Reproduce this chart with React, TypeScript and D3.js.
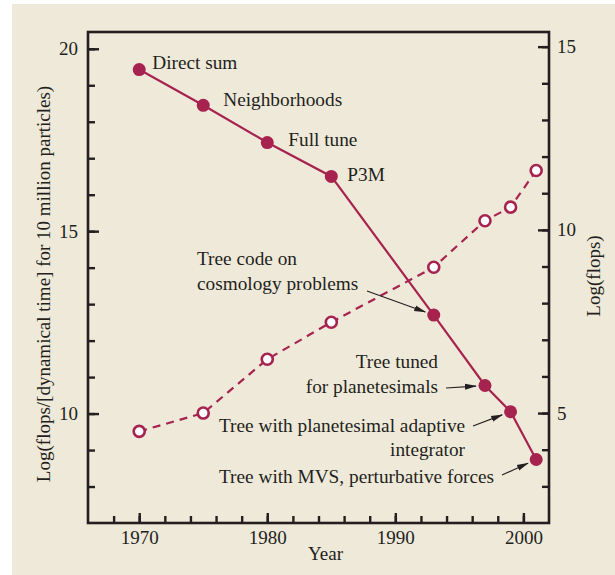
import React, { useEffect, useRef } from "react";
import * as d3 from "d3";

// chart values
const years = [1970, 1975, 1980, 1985, 1993, 1997, 1999, 2001];
const flopsPerDynTime = [19.43, 18.45, 17.43, 16.5, 12.7, 10.77, 10.05, 8.74];
const logFlops = [4.5, 5.0, 6.47, 7.48, 8.98, 10.25, 10.62, 11.62];

const leftMajor = [10, 15, 20];
const rightMajor = [5, 10, 15];
const yearMajor = [1970, 1980, 1990, 2000];

const pointLabels = ["Direct sum", "Neighborhoods", "Full tune", "P3M"];

const INK = "#231f20";
const RED = "#a7234f";
const BG = "#efe9d9";
const FONT = "'Liberation Serif', 'Times New Roman', serif";
const NOTE = 19.3;

export default function App() {
  const ref = useRef<SVGSVGElement>(null);

  useEffect(() => {
    const svg = d3.select(ref.current);
    svg.selectAll("*").remove();

    const L = 88, R = 549, T = 32, B = 523;

    const x = d3.scaleLinear().domain([1966, 2002]).range([L, R]);
    const yL = d3.scaleLinear().domain([7, 20.46]).range([B, T]);
    const yR = d3.scaleLinear().domain([2, 15.4]).range([B, T]);

    svg.append("rect").attr("x", 12).attr("y", 4).attr("width", 615 - 12).attr("height", 575 - 4).attr("fill", BG);

    const defs = svg.append("defs");
    defs.append("marker")
      .attr("id", "arr")
      .attr("viewBox", "0 0 12 10")
      .attr("refX", 11).attr("refY", 5)
      .attr("markerWidth", 12).attr("markerHeight", 10)
      .attr("markerUnits", "userSpaceOnUse")
      .attr("orient", "auto")
      .append("path").attr("d", "M0,2 L12,5 L0,8 Z").attr("fill", INK);

    const styleAxis = (g: any, size: number) => {
      g.select(".domain").remove();
      g.selectAll("line").attr("stroke", INK).attr("stroke-width", 2.4);
      g.selectAll("text").attr("fill", INK).style("font-family", FONT).style("font-size", size + "px");
    };

    // left axis
    svg.append("g").attr("transform", `translate(${L},0)`)
      .call(d3.axisLeft(yL).tickValues(d3.range(8, 21)).tickSize(-7).tickFormat(() => ""))
      .call((g) => styleAxis(g, 19));
    svg.append("g").attr("transform", `translate(${L},0)`)
      .call(d3.axisLeft(yL).tickValues(leftMajor).tickSize(-11).tickPadding(10).tickFormat(d3.format("d")))
      .call((g) => styleAxis(g, 19));

    // right axis
    svg.append("g").attr("transform", `translate(${R},0)`)
      .call(d3.axisRight(yR).tickValues(d3.range(3, 16)).tickSize(-7).tickFormat(() => ""))
      .call((g) => styleAxis(g, 19));
    svg.append("g").attr("transform", `translate(${R},0)`)
      .call(d3.axisRight(yR).tickValues(rightMajor).tickSize(-11).tickPadding(8).tickFormat(d3.format("d")))
      .call((g) => styleAxis(g, 19));

    // bottom axis
    svg.append("g").attr("transform", `translate(0,${B})`)
      .call(d3.axisBottom(x).tickValues(d3.range(1968, 2001, 2)).tickSize(-7).tickFormat(() => ""))
      .call((g) => styleAxis(g, 19));
    svg.append("g").attr("transform", `translate(0,${B})`)
      .call(d3.axisBottom(x).tickValues(yearMajor).tickSize(-10).tickPadding(8).tickFormat(d3.format("d")))
      .call((g) => styleAxis(g, 19));

    // frame
    svg.append("rect")
      .attr("x", L).attr("y", T).attr("width", R - L).attr("height", B - T)
      .attr("fill", "none").attr("stroke", INK).attr("stroke-width", 2.6);

    const txt = (s: string, tx: number, ty: number, anchor = "start", rot = 0, size = NOTE) =>
      svg.append("text")
        .attr("transform", `translate(${tx},${ty}) rotate(${rot})`)
        .attr("text-anchor", anchor)
        .attr("fill", INK)
        .style("font-family", FONT)
        .style("font-size", size + "px")
        .text(s);

    // axis titles
    txt("Year", 325.5, 560, "middle", 0, 19);
    txt("Log(flops/[dynamical time] for 10 million particles)", 50, 284, "middle", -90, 19);
    txt("Log(flops)", 600, 276, "middle", -90, 19);

    const dash = years.map((yr, i) => [x(yr), yR(logFlops[i])] as [number, number]);
    const solid = years.map((yr, i) => [x(yr), yL(flopsPerDynTime[i])] as [number, number]);

    svg.append("path")
      .attr("d", d3.line()(dash))
      .attr("fill", "none").attr("stroke", RED).attr("stroke-width", 2.2)
      .attr("stroke-dasharray", "8,6");
    svg.append("path")
      .attr("d", d3.line()(solid))
      .attr("fill", "none").attr("stroke", RED).attr("stroke-width", 2.2);

    svg.selectAll(".open").data(dash).enter().append("circle")
      .attr("cx", (d) => d[0]).attr("cy", (d) => d[1]).attr("r", 5.5)
      .attr("fill", "white").attr("stroke", RED).attr("stroke-width", 2.6);
    svg.selectAll(".full").data(solid).enter().append("circle")
      .attr("cx", (d) => d[0]).attr("cy", (d) => d[1]).attr("r", 6.5)
      .attr("fill", RED);

    // labels next to the first four points (hand offsets as in the figure)
    const offX = [13, 20, 21, 16];
    const offY = [-1, 1, 3, 5];
    pointLabels.forEach((s, i) => {
      txt(s, solid[i][0] + offX[i], solid[i][1] + offY[i]);
    });

    // arrowed notes
    const arrow = (fx: number, fy: number, i: number) => {
      const [px, py] = solid[i];
      const dx = px - fx, dy = py - fy;
      const len = Math.hypot(dx, dy);
      svg.append("line")
        .attr("x1", fx).attr("y1", fy)
        .attr("x2", px - (dx / len) * 9).attr("y2", py - (dy / len) * 9)
        .attr("stroke", INK).attr("stroke-width", 1.2)
        .attr("marker-end", "url(#arr)");
    };

    txt("Tree code on", 197, 265);
    txt("cosmology problems", 197, 290);
    arrow(367, 291, 4);

    txt("Tree tuned", 438, 368, "end");
    txt("for planetesimals", 438, 393, "end");
    arrow(446, 388, 5);

    txt("Tree with planetesimal adaptive", 219, 432);
    txt("integrator", 465, 456, "end");
    arrow(473, 426, 6);

    txt("Tree with MVS, perturbative forces", 219, 483);
    arrow(502, 475, 7);
  }, []);

  return (
    <div style={{ position: "absolute", left: 0, top: 0 }}>
      <svg ref={ref} width={615} height={575} style={{ display: "block" }} />
    </div>
  );
}
